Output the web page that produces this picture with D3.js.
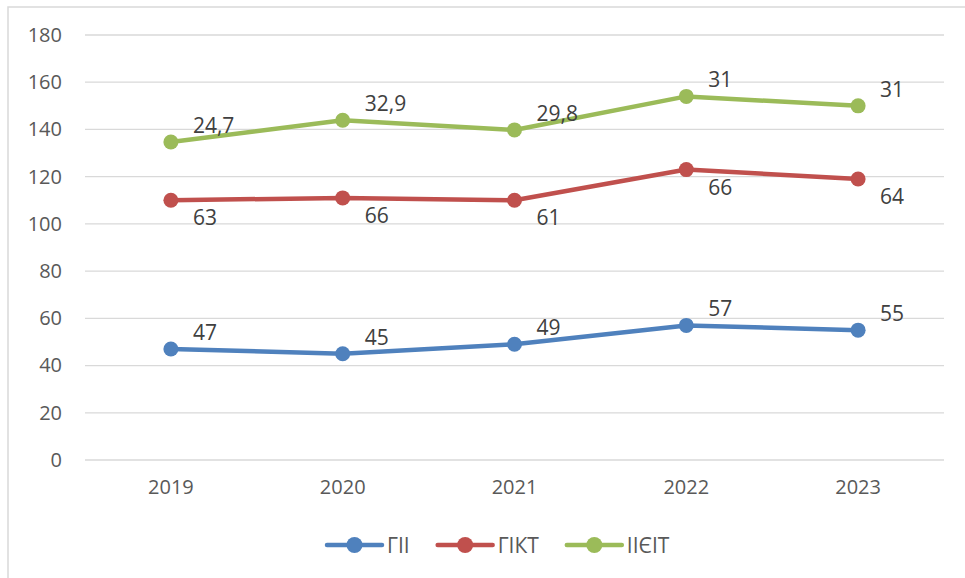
<!DOCTYPE html>
<html lang="uk">
<head>
    <meta charset="UTF-8">
    <title>ГІІ / ГІКТ / ІІЄІТ</title>
    <script src="https://d3js.org/d3.v7.min.js"></script>
    <style>
        body, html {
            margin: 0;
            background: #ffffff;
            overflow: hidden;
        }
        svg {
            display: block;
            font-family: 'Open Sans', sans-serif;
        }
    </style>
</head>
<body>
<svg id="chart" width="965" height="578"></svg>

<script>
    // data (stacked line chart)
    const years = ['2019', '2020', '2021', '2022', '2023'];
    const gii = [47, 45, 49, 57, 55];
    const gikt = [63, 66, 61, 66, 64];
    const iieit = [24.7, 32.9, 29.8, 31, 31];
    const seriesNames = ['ГІІ', 'ГІКТ', 'ІІЄІТ'];
    const seriesColors = ['#4F81BD', '#C0504D', '#9BBB59'];
    const labelSide = ['above', 'below', 'above'];
    const yTicks = [0, 20, 40, 60, 80, 100, 120, 140, 160, 180];

    const svg = d3.select('#chart');
    const textColor = '#595959';
    const gridColor = '#D9D9D9';

    // chart area frame
    svg.append('path')
        .attr('d', 'M8,578 L8,7 L965,7')
        .attr('fill', 'none')
        .attr('stroke', gridColor)
        .attr('stroke-width', 1.5);

    const x = d3.scaleBand()
        .domain(years)
        .range([85, 944]);

    const y = d3.scaleLinear()
        .domain([0, 180])
        .range([460, 35]);

    // gridlines
    svg.append('g')
        .selectAll('line')
        .data(yTicks)
        .join('line')
        .attr('x1', 85)
        .attr('x2', 944)
        .attr('y1', d => y(d))
        .attr('y2', d => y(d))
        .attr('stroke', gridColor)
        .attr('stroke-width', 1.3);

    // y axis labels
    const yAxis = svg.append('g')
        .attr('transform', 'translate(70,0)')
        .call(d3.axisLeft(y).tickValues(yTicks).tickSize(0).tickPadding(8));
    yAxis.select('.domain').remove();
    yAxis.selectAll('text')
        .attr('fill', textColor)
        .style('font-size', '20px')
        .style('font-family', "'Open Sans', sans-serif");

    // x axis labels
    const xAxis = svg.append('g')
        .attr('transform', 'translate(0,470)')
        .call(d3.axisBottom(x).tickSize(0).tickPadding(10));
    xAxis.select('.domain').remove();
    xAxis.selectAll('text')
        .attr('fill', textColor)
        .style('font-size', '20px')
        .style('font-family', "'Open Sans', sans-serif");

    // stack the series
    const rows = years.map((yr, i) => ({ year: yr, s0: gii[i], s1: gikt[i], s2: iieit[i] }));
    const rawValues = [gii, gikt, iieit];
    const stacked = d3.stack().keys(['s0', 's1', 's2'])(rows);

    const cx = d => x(d.data.year) + x.bandwidth() / 2;

    const line = d3.line()
        .x(cx)
        .y(d => y(d[1]));

    stacked.forEach((layer, si) => {
        const g = svg.append('g');
        g.append('path')
            .datum(layer)
            .attr('d', line)
            .attr('fill', 'none')
            .attr('stroke', seriesColors[si])
            .attr('stroke-width', 4.5)
            .attr('stroke-linejoin', 'round')
            .attr('stroke-linecap', 'round');

        g.selectAll('circle')
            .data(layer)
            .join('circle')
            .attr('cx', cx)
            .attr('cy', d => y(d[1]))
            .attr('r', 7.5)
            .attr('fill', seriesColors[si]);

        g.selectAll('text')
            .data(layer)
            .join('text')
            .attr('x', d => cx(d) + 22)
            .attr('y', d => y(d[1]) + (labelSide[si] === 'above' ? -9 : 25))
            .attr('fill', '#404040')
            .style('font-size', '21px')
            .text((d, i) => String(rawValues[si][i]).replace('.', ','));
    });

    // legend
    const legend = svg.append('g').attr('transform', 'translate(0,545)');
    let lx = 0;
    const items = [];
    seriesNames.forEach((name, i) => {
        const item = legend.append('g');
        item.append('line')
            .attr('x1', 0).attr('x2', 55)
            .attr('y1', 0).attr('y2', 0)
            .attr('stroke', seriesColors[i])
            .attr('stroke-width', 4.5)
            .attr('stroke-linecap', 'round');
        item.append('circle')
            .attr('cx', 27.5).attr('cy', 0)
            .attr('r', 8)
            .attr('fill', seriesColors[i]);
        const t = item.append('text')
            .attr('x', 60)
            .attr('y', 7.5)
            .attr('fill', textColor)
            .style('font-size', '21px')
            .text(name);
        const w = 60 + t.node().getComputedTextLength();
        item.attr('transform', `translate(${lx},0)`);
        items.push(item);
        lx += w + 28;
    });
    const legendWidth = lx - 28;
    legend.attr('transform', `translate(${(327 + 327 + legendWidth) / 2 - legendWidth / 2},545)`);
</script>
</body>
</html>
